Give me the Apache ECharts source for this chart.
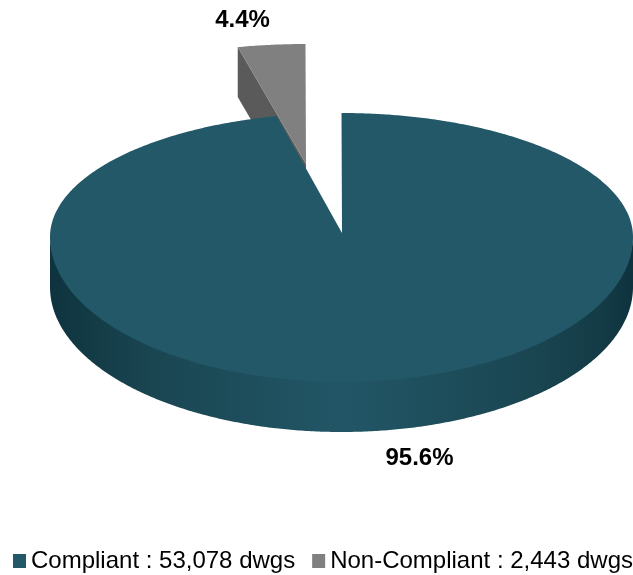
<!DOCTYPE html>
<html><head><meta charset="utf-8">
<style>html,body{margin:0;padding:0;background:#fff}#c{width:633px;height:575px}</style>
<script src="https://cdn.jsdelivr.net/npm/echarts@6/dist/echarts.min.js"></script>
</head><body><div id="c"></div>
<script>
const categories = ['Compliant', 'Non-Compliant'];
const drawings = [53078, 2443];
const percentLabels = ['95.6%', '4.4%'];
const units = 'dwgs';

// Perspective layout of the pie disc
const cx = 341.5, cy = 237, rx = 291.5, rBack = 124, rFront = 145, depth = 50;
const apex = [342, 233], warp = 0.804;
const explode = [-36, -69], explodeScaleX = 1.045;

const total = drawings.reduce((a, b) => a + b, 0);
const TAU = Math.PI * 2;
const warpAngle = t => Math.atan2(warp * Math.sin(t), Math.cos(t));
const rimPoint = (phi, dy = 0) => [
  cx + rx * Math.sin(phi),
  cy - (Math.cos(phi) > 0 ? rBack : rFront) * Math.cos(phi) + dy
];
function arc(t0, t1) {
  const n = Math.max(8, Math.ceil(Math.abs(t1 - t0) / 0.01)), pts = [];
  for (let i = 0; i <= n; i++) {
    let p = warpAngle(t0 + (t1 - t0) * i / n);
    if (t0 + (t1 - t0) * i / n > Math.PI) p = p < 0 ? p + TAU : p;
    pts.push(rimPoint(p));
  }
  return pts;
}
function labelText(text, x, y) {
  return { type: 'text', x, y, silent: true, style: {
    text, x: 0, y: 0, align: 'center', verticalAlign: 'middle',
    font: 'bold 24px "Liberation Sans", Arial, sans-serif', fill: '#000' } };
}

function renderMain(params, api) {
  const share = api.value(0) / total;
  const end = share * TAU;
  const wallTop = [];
  const wallBot = [];
  for (let d = 90; d <= 270; d += 0.5) {
    const r = d * Math.PI / 180;
    wallTop.push(rimPoint(r, -3));
    wallBot.unshift(rimPoint(r, depth));
  }
  return { type: 'group', children: [
    { type: 'polygon', shape: { points: wallTop.concat(wallBot) }, style: {
        fill: { type: 'linear', x: 0, y: 0, x2: 1, y2: 0, colorStops: [
          { offset: 0, color: '#0e333e' }, { offset: 0.06, color: '#123a45' },
          { offset: 0.18, color: '#1a4652' }, { offset: 0.5, color: '#225666' },
          { offset: 0.82, color: '#1a4652' }, { offset: 0.94, color: '#143c47' },
          { offset: 1, color: '#0e333e' } ] } } },
    { type: 'polygon', shape: { points: [apex].concat(arc(0, end)) },
      style: { fill: '#235869' } },
    labelText(percentLabels[0], 419.5, 458)
  ] };
}

function renderOther(params, api) {
  const start = (drawings[0] / total) * TAU;
  const pts = arc(start, TAU).map(p => [
    apex[0] + explode[0] + (p[0] - apex[0]) * explodeScaleX,
    p[1] + explode[1]
  ]);
  const a = [apex[0] + explode[0], apex[1] + explode[1]];
  const first = pts[0];
  return { type: 'group', children: [
    { type: 'polygon', shape: { points: [first, [first[0], first[1] + depth], [a[0], a[1] + depth], a] },
      style: { fill: '#5a5a5a' } },
    { type: 'polygon', shape: { points: [a].concat(pts) }, style: { fill: '#808080' } },
    labelText(percentLabels[1], 242.5, 20)
  ] };
}

const legendName = i => `${categories[i]} : ${drawings[i].toLocaleString('en-US')} ${units}`;

const chart = echarts.init(document.getElementById('c'), null, { renderer: 'canvas' });
chart.setOption({
  animation: false,
  backgroundColor: '#fff',
  legend: {
    data: [legendName(0), legendName(1)],
    left: 13, top: 549, width: 620, padding: 0, icon: 'rect', itemWidth: 13, itemHeight: 14, itemGap: 17,
    selectedMode: false,
    textStyle: { fontFamily: '"Liberation Sans", Arial, sans-serif', fontSize: 24, color: '#000' }
  },
  series: [
    { type: 'custom', name: legendName(1), coordinateSystem: 'none', z: 1, silent: true,
      itemStyle: { color: '#808080' }, data: [[drawings[1]]], renderItem: renderOther },
    { type: 'custom', name: legendName(0), coordinateSystem: 'none', z: 2, silent: true,
      itemStyle: { color: '#235869' }, data: [[drawings[0]]], renderItem: renderMain }
  ]
});
</script></body></html>
